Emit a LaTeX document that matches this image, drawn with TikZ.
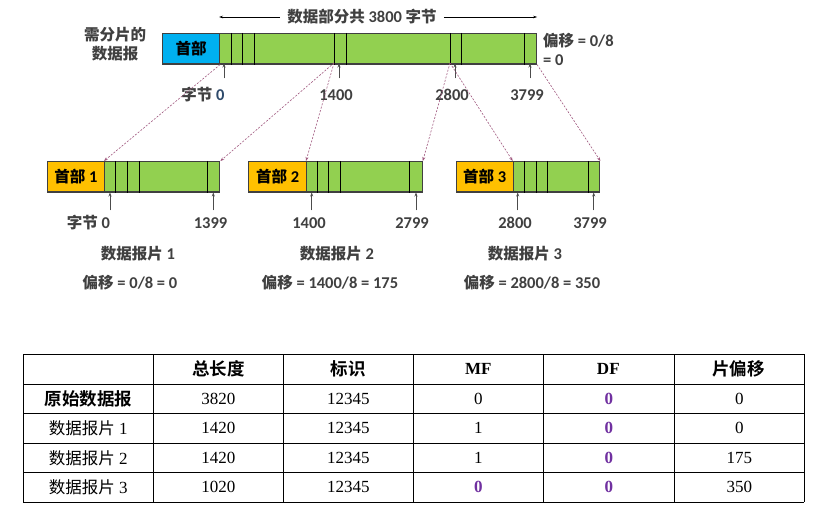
\documentclass[tikz,border=0pt]{standalone}
\usepackage{fontspec}
\setmainfont{Carlito}[BoldFont={Carlito Bold}]
\newfontfamily\cjk{Noto Sans CJK SC}
\newfontfamily\cjkb{Noto Sans CJK SC Bold}
\newfontfamily\tabfont{Liberation Serif}
\usetikzlibrary{arrows.meta, positioning, calc}

\definecolor{hblue}{HTML}{00B0F0}
\definecolor{hyellow}{HTML}{FFC000}
\definecolor{dgreen}{HTML}{92D050}
\definecolor{txtgray}{HTML}{404040}
\definecolor{numblue}{HTML}{2E4A6B}
\definecolor{linkpink}{HTML}{A0587F}
\definecolor{flagpurple}{HTML}{7030A0}

\newcommand{\zh}[1]{{\fontsize{15.5}{19}\cjkb #1}}
\newcommand{\zht}[1]{{\fontsize{17.5}{20}\cjkb #1}}
\newcommand{\zhr}[1]{{\fontsize{16.5}{20}\cjk #1}}
\newcommand{\lblfont}{\fontsize{16.5}{19}\selectfont\bfseries}
\newcommand{\cellfont}{\fontsize{17}{20}\selectfont\tabfont}
\newcommand{\pz}{\textcolor{flagpurple}{\bfseries 0}}

\begin{document}
\begin{tikzpicture}[x=1pt, y=-1pt,
  lbl/.style={font=\lblfont, text=txtgray, inner sep=1pt},
  hdbox/.style={draw=black!75, line width=1.1pt, anchor=north west, minimum height=30.5, inner sep=0pt, font=\lblfont, text=black},
  databox/.style={hdbox, fill=dgreen},
  divline/.style={black, line width=0.8pt},
  uparr/.style={-{Stealth[length=4pt,width=3pt]}, black!70, line width=0.7pt},
  maplink/.style={-{Stealth[length=4pt,width=3pt]}, draw=linkpink, line width=0.6pt, dash pattern=on 2pt off 1.5pt},
  spanarr/.style={-{Stealth[length=4pt,width=2.5pt]}, black, line width=0.6pt},
  tabline/.style={black, line width=0.9pt},
  cell/.style={font=\cellfont, inner sep=0pt}]
  \fill[white] (0,0) rectangle (830,526);
  \useasboundingbox (0,0) rectangle (830,526);

  % 需分片的数据报
  \node[hdbox, fill=hblue, minimum width=57] (hd0) at (162,33) {\zh{首部}};
  \node[databox, minimum width=317] (dat0) at (219,33) {};
  \foreach \d in {12.7,23.7,35.3,115.3,127.7,231,242.7,305.3}
    \draw[divline] ([xshift=\d]dat0.north west) -- ([xshift=\d]dat0.south west);

  \node[lbl, align=center] (orig) at (115,44) {\zh{需分片的}\\\zh{数据报}};
  \node[lbl, align=left, anchor=west] (off0) at (542,49) {\zh{偏移} = 0/8\\= 0};
  \node[lbl, inner sep=7pt] (span) at (362,17) {\zh{数据部分共} 3800 \zh{字节}};
  \draw[spanarr] (span.west) -- (span.west -| dat0.west);
  \draw[spanarr] (span.east) -- (span.east -| dat0.east);

  \node[lbl] (b0) at (203,95) {\zh{字节} \textcolor{numblue}{0}};
  \node[lbl] (b1400) at (336,95) {1400};
  \node[lbl] (b2800) at (452,95) {2800};
  \node[lbl] (b3799) at (527,95) {3799};
  \coordinate (t0) at (224,63.5);
  \coordinate (t1) at (339,63.5);
  \coordinate (t2) at (455,63.5);
  \coordinate (t3) at (530,63.5);
  \foreach \t in {t0,t1,t2,t3}
    \draw[uparr] (\t) ++(0,15) -- (\t);

  % 三个数据报片
  \node[hdbox, fill=hyellow, minimum width=57.3] (hd1) at (46.7,161) {\zh{首部} 1};
  \node[databox, minimum width=115.3] (dat1) at (104,161) {};
  \foreach \d in {11.7,23.3,35.3,103.3}
    \draw[divline] ([xshift=\d]dat1.north west) -- ([xshift=\d]dat1.south west);

  \node[hdbox, fill=hyellow, minimum width=57.7] (hd2) at (248.3,161) {\zh{首部} 2};
  \node[databox, minimum width=115.7] (dat2) at (306,161) {};
  \foreach \d in {11.3,22.3,34.7,103.3}
    \draw[divline] ([xshift=\d]dat2.north west) -- ([xshift=\d]dat2.south west);

  \node[hdbox, fill=hyellow, minimum width=57] (hd3) at (455.7,161) {\zh{首部} 3};
  \node[databox, minimum width=86.6] (dat3) at (512.7,161) {};
  \foreach \d in {11.6,23.3,34.6,75.6}
    \draw[divline] ([xshift=\d]dat3.north west) -- ([xshift=\d]dat3.south west);

  % 对应关系
  \coordinate (s1) at (334,63);
  \coordinate (s2) at (450,63);
  \draw[maplink] (hd0.south east) -- (dat1.north west);
  \draw[maplink] (s1) -- (dat1.north east);
  \draw[maplink] (s1) -- (dat2.north west);
  \draw[maplink] (s2) -- (dat2.north east);
  \draw[maplink] (s2) -- (dat3.north west);
  \draw[maplink] (dat0.south east) -- (dat3.north east);

  \node[lbl] (f1a) at (88.5,223) {\zh{字节} 0};
  \node[lbl] (f1b) at (210.5,223) {1399};
  \node[lbl] (f2a) at (309,223) {1400};
  \node[lbl] (f2b) at (412,223) {2799};
  \node[lbl] (f3a) at (515,223) {2800};
  \node[lbl] (f3b) at (590,223) {3799};
  \coordinate (u1a) at (110,192.5);
  \coordinate (u1b) at (213.3,192.5);
  \coordinate (u2a) at (311.7,192.5);
  \coordinate (u2b) at (416,192.5);
  \coordinate (u3a) at (517.7,192.5);
  \coordinate (u3b) at (593.7,192.5);
  \foreach \t in {u1a,u1b,u2a,u2b,u3a,u3b}
    \draw[uparr] (\t) ++(0,18) -- (\t);

  \node[lbl] (n1) at (138,254) {\zh{数据报片} 1};
  \node[lbl] (n2) at (337,254) {\zh{数据报片} 2};
  \node[lbl] (n3) at (525,254) {\zh{数据报片} 3};
  \node[lbl] (o1) at (130,283) {\zh{偏移} = 0/8 = 0};
  \node[lbl] (o2) at (330,283) {\zh{偏移} = 1400/8 = 175};
  \node[lbl] (o3) at (532,283) {\zh{偏移} = 2800/8 = 350};

  % 首部字段表
  \foreach \x in {23.3,153.3,283.3,413.3,543.3,674.3,804.3}
    \draw[tabline] (\x,354.3) -- (\x,502);
  \foreach \y in {354.3,384,413.3,443.3,472.7,502}
    \draw[tabline] (23.3,\y) -- (804.3,\y);

  \foreach \t [count=\c] in {{\zht{总长度}},{\zht{标识}},{\bfseries MF},{\bfseries DF},{\zht{片偏移}}}
    \node[cell] (h-\c) at (153.3+130*\c-65,369) {\t};
  \foreach \r/\y/\t in {1/398.7/{\zht{原始数据报}},2/428.3/{\zhr{数据报片} 1},3/458/{\zhr{数据报片} 2},4/487.3/{\zhr{数据报片} 3}}
    \node[cell] (r-\r) at (88.3,\y) {\t};
  \foreach \r/\y/\a/\b/\m/\o in {1/398.7/3820/0/0/0,2/428.3/1420/1/0/0,3/458/1420/1/0/175,4/487.3/1020/\pz/0/350} {
    \node[cell] (len-\r) at (218.3,\y) {\a};
    \node[cell] (id-\r) at (348.3,\y) {12345};
    \node[cell] (mf-\r) at (478.3,\y) {\b};
    \node[cell] (df-\r) at (608.8,\y) {\pz};
    \node[cell] (fo-\r) at (739.3,\y) {\o};
  }
\end{tikzpicture}
\end{document}
